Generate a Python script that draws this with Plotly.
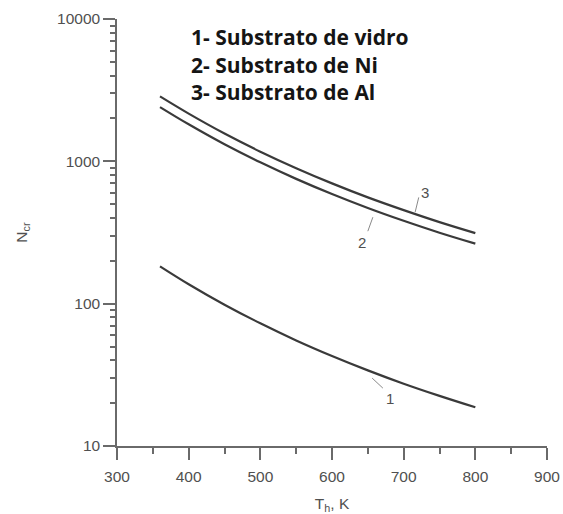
import numpy as np
import plotly.graph_objects as go

# Data
T = [360, 400, 450, 500, 550, 600, 650, 700, 750, 800]
n_vidro = [183, 137, 98.4, 72.8, 55.2, 42.9, 34.0, 27.4, 22.5, 18.7]
n_ni = [2404, 1820, 1318, 984, 753, 589, 470, 382, 315, 264]
n_al = [2858, 2163, 1567, 1169, 895, 700, 558, 454, 374, 313]

legend_lines = ["1- Substrato de vidro", "2- Substrato de Ni", "3- Substrato de Al"]
curve_labels = ["1", "2", "3"]
# label text positions (T, N) and leader end points (T, N)
label_pos = [(681, 21.7), (642, 270), (730, 605)]
leader_T = [(656, 671), (650, 657), (716, 721)]
leader_N = [(30.0, 25.5), (323, 405), (439, 558)]

y_major = [10, 100, 1000, 10000]
y_minor = [m * d for d in (10, 100, 1000) for m in range(2, 10)]

line_color = "#3a3a3a"
axis_color = "#6a6a6a"
text_color = "#505050"
FONT = "Liberation Sans, Arial, sans-serif"

W, H = 563, 514
ml, mr, mt, mb = 117, 16, 19, 68

fig = go.Figure()
for ys in (n_vidro, n_ni, n_al):
    fig.add_trace(go.Scatter(x=T, y=ys, mode="lines", line=dict(color=line_color, width=2.2, shape="spline"),
                             hoverinfo="skip", showlegend=False))
for (t0, t1), (n0, n1) in zip(leader_T, leader_N):
    fig.add_trace(go.Scatter(x=[t0, t1], y=[n0, n1], mode="lines", line=dict(color="#8a8a8a", width=1),
                             hoverinfo="skip", showlegend=False))
# invisible trace bound to the overlay axis that carries the minor y ticks
fig.add_trace(go.Scatter(x=T, y=n_vidro, yaxis="y2", mode="lines", line=dict(color="rgba(0,0,0,0)", width=0),
                         hoverinfo="skip", showlegend=False))

for lab, (t, n) in zip(curve_labels, label_pos):
    fig.add_annotation(x=t, y=np.log10(n), xref="x", yref="y", text=lab, showarrow=False,
                       font=dict(family=FONT, size=15, color=text_color))

legend_px_y = [37, 65, 92]
for s, py in zip(legend_lines, legend_px_y):
    fig.add_annotation(x=(189 - ml) / (W - ml - mr), y=1 - (py - mt) / (H - mt - mb),
                       xref="paper", yref="paper", text="<b>%s</b>" % s,
                       showarrow=False, xanchor="left", yanchor="middle",
                       font=dict(family="Open Sans", size=21, color="#151515"))

fig.update_layout(
    width=W, height=H,
    margin=dict(l=ml, r=mr, t=mt, b=mb),
    paper_bgcolor="white", plot_bgcolor="white",
    font=dict(family=FONT, size=15.5, color=text_color),
    showlegend=False,
    yaxis2=dict(type="log", range=[1, 4], overlaying="y", side="left", tickmode="array", tickvals=y_minor,
                showticklabels=False, ticks="outside", ticklen=6, tickwidth=1.5, tickcolor=axis_color,
                showgrid=False, zeroline=False, showline=False, automargin=False),
)
fig.update_xaxes(
    range=[300, 900], tickmode="linear", tick0=300, dtick=100, automargin=False,
    showgrid=False, zeroline=False, showline=True, linecolor=axis_color, linewidth=1.5,
    ticks="outside", ticklen=12, tickcolor=axis_color, tickwidth=1.5, ticklabelstandoff=4,
    minor=dict(ticks="outside", ticklen=6, dtick=50, tickcolor=axis_color, tickwidth=1.5, showgrid=False),
    title=dict(text="T<sub>h</sub>, K", standoff=14, font=dict(family=FONT, size=15.5, color=text_color)),
    tickfont=dict(family=FONT, size=15.5, color=text_color),
)
fig.update_layout(yaxis=dict(
    type="log", range=[1, 4], tickmode="array", tickvals=y_major, ticktext=[str(v) for v in y_major],
    automargin=False,
    showgrid=False, zeroline=False, showline=True, linecolor=axis_color, linewidth=1.5,
    ticks="outside", ticklen=12, tickcolor=axis_color, tickwidth=1.5,
    title=dict(text="N<sub>cr</sub>", standoff=26, font=dict(family=FONT, size=15.5, color=text_color)),
    tickfont=dict(family=FONT, size=15.5, color=text_color),
))

fig.write_html("out.html")
